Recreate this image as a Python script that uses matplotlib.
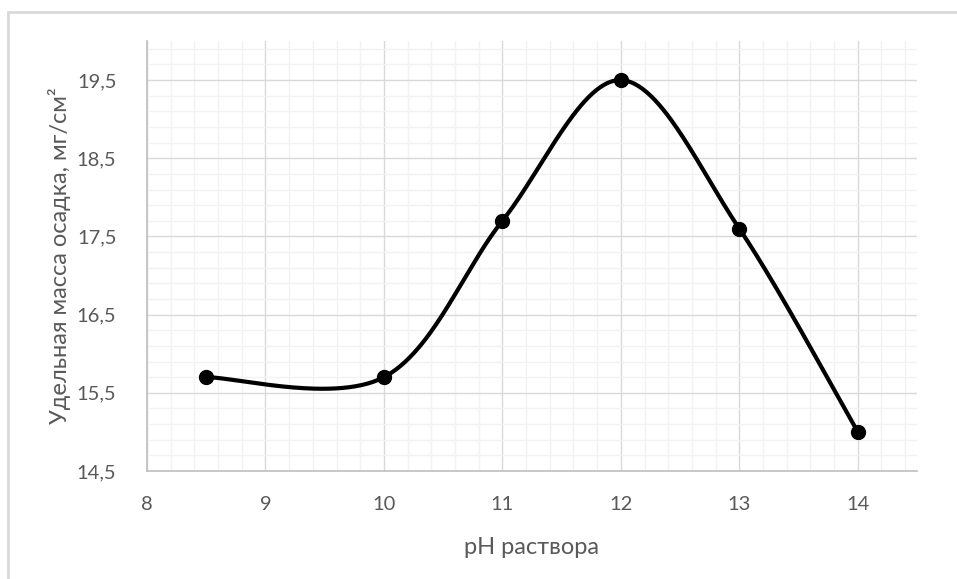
import numpy as np
import matplotlib
matplotlib.use("Agg")
import matplotlib.pyplot as plt
from matplotlib.ticker import MultipleLocator, FixedLocator, FuncFormatter
from matplotlib.patches import Rectangle

# Data: pH of the solution vs. specific precipitate mass
ph = [8.5, 10, 11, 12, 13, 14]
mass = [15.7, 15.7, 17.7, 19.5, 17.6, 15.0]

x_ticks = [8, 9, 10, 11, 12, 13, 14]
y_ticks = [14.5, 15.5, 16.5, 17.5, 18.5, 19.5]

x_label = "pH раствора"
y_label = "Удельная масса осадка, мг/см²"


def smooth_curve(xs, ys, n=60):
    """Piecewise cubic Bezier through the points (spreadsheet-style smoothing)."""
    pts = np.column_stack([xs, ys]).astype(float)
    out = []
    m = len(pts)
    for i in range(m - 1):
        p0 = pts[i - 1] if i > 0 else pts[i]
        p1 = pts[i]
        p2 = pts[i + 1]
        p3 = pts[i + 2] if i + 2 < m else pts[i + 1]
        c1 = p1 + (p2 - p0) / 6.0
        c2 = p2 - (p3 - p1) / 6.0
        t = np.linspace(0, 1, n)[:, None]
        seg = ((1 - t) ** 3) * p1 + 3 * ((1 - t) ** 2) * t * c1 \
            + 3 * (1 - t) * t ** 2 * c2 + t ** 3 * p2
        out.append(seg if i == 0 else seg[1:])
    curve = np.vstack(out)
    return curve[:, 0], curve[:, 1]


plt.rcParams["font.family"] = ["Lato", "DejaVu Sans"]

fig = plt.figure(figsize=(9.57, 5.79), dpi=100)
ax = fig.add_axes([147 / 957, 1 - 471 / 579, (917 - 147) / 957, (471 - 41) / 579])

# outer chart frame (top and left edges visible)
fig.patches.append(Rectangle((8 / 957, -0.1), 1.2, 1 - 12 / 579 + 0.1,
                             transform=fig.transFigure, fill=False,
                             edgecolor="#d9d9d9", linewidth=2))

ax.set_xlim(8, 14.5)
ax.set_ylim(14.5, 20)

ax.xaxis.set_major_locator(FixedLocator(x_ticks))
ax.xaxis.set_minor_locator(MultipleLocator(0.2))
ax.yaxis.set_major_locator(FixedLocator(y_ticks))
ax.yaxis.set_minor_locator(FixedLocator(np.arange(14.7, 20.01, 0.2)))

fmt = FuncFormatter(lambda v, p: f"{v:g}".replace(".", ","))
ax.yaxis.set_major_formatter(fmt)
ax.xaxis.set_major_formatter(fmt)

ax.grid(which="minor", color="#f2f2f2", linewidth=1.0, zorder=0)
ax.grid(which="major", color="#d9d9d9", linewidth=1.0, zorder=0)
ax.set_axisbelow(True)

for side in ["top", "right"]:
    ax.spines[side].set_visible(False)
for side in ["left", "bottom"]:
    ax.spines[side].set_color("#bfbfbf")
    ax.spines[side].set_linewidth(1.2)

ax.tick_params(which="both", length=0, colors="#595959", labelsize=14.5)
ax.tick_params(axis="x", pad=18)
ax.tick_params(axis="y", pad=22)

cx, cy = smooth_curve(ph, mass)
ax.plot(cx, cy, color="black", linewidth=3, solid_capstyle="round", zorder=3)
ax.plot(ph, mass, "o", color="black", markersize=10, zorder=4, clip_on=False)

ax.set_xlabel(x_label, color="#595959", fontsize=17)
ax.set_ylabel(y_label, color="#595959", fontsize=17)
ax.xaxis.set_label_coords(532 / 957, 1 - 548 / 579, transform=fig.transFigure)
ax.yaxis.set_label_coords(60 / 957, 1 - 256 / 579, transform=fig.transFigure)
ax.xaxis.label.set_va("center")
ax.yaxis.label.set_va("center")

fig.savefig("out.png", dpi=100, facecolor="white")
